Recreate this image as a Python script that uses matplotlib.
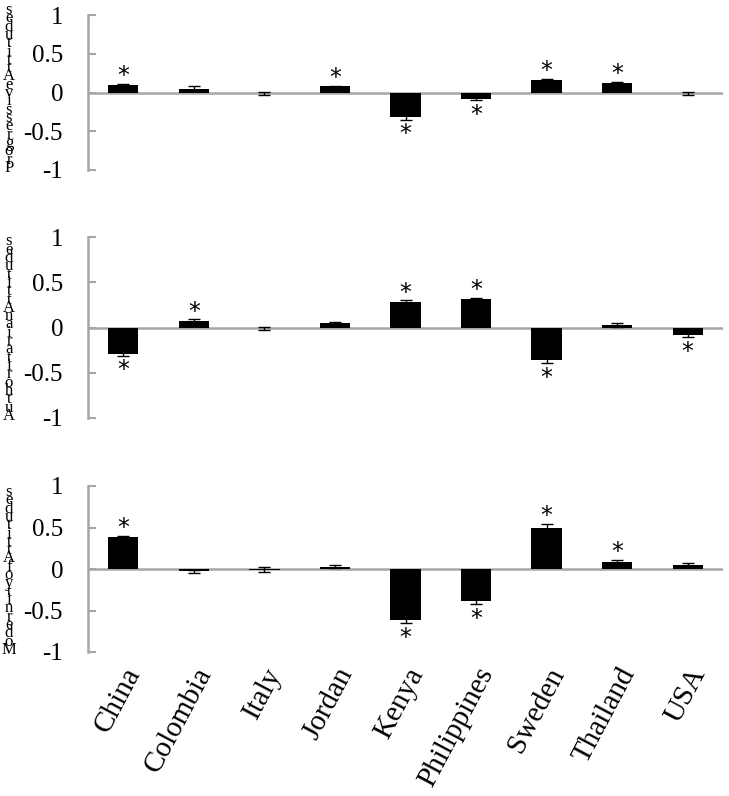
import matplotlib.pyplot as plt
import numpy as np

# countries along the x axis
countries = ['China', 'Colombia', 'Italy', 'Jordan', 'Kenya',
             'Philippines', 'Sweden', 'Thailand', 'USA']

# mean attitude scores per panel
progressive = [0.10, 0.05, -0.01, 0.08, -0.32, -0.08, 0.16, 0.125, -0.01]
progressive_err = [0.01, 0.03, 0.02, 0.01, 0.03, 0.02, 0.01, 0.01, 0.02]
progressive_sig = [True, False, False, True, True, True, True, True, False]

authoritarian = [-0.29, 0.07, -0.01, 0.05, 0.28, 0.31, -0.36, 0.03, -0.08]
authoritarian_err = [0.02, 0.02, 0.02, 0.01, 0.02, 0.02, 0.03, 0.02, 0.03]
authoritarian_sig = [True, True, False, False, True, True, True, False, True]

modernity = [0.38, -0.03, -0.01, 0.03, -0.62, -0.38, 0.50, 0.085, 0.05]
modernity_err = [0.02, 0.02, 0.03, 0.02, 0.03, 0.04, 0.04, 0.02, 0.02]
modernity_sig = [True, False, False, False, True, True, True, True, False]

labels = ['Progressive Attitudes', 'Authoritarian Attitudes', 'Modernity of Attitudes']

plt.rcParams['font.family'] = ['Liberation Serif', 'DejaVu Serif']

fig = plt.figure(figsize=(7.29, 7.96), dpi=100)
H = 796.0
W = 729.0
# pixel boxes (top, bottom) of each panel
boxes = [(15, 170), (237, 418), (486, 652)]
panels = [(progressive, progressive_err, progressive_sig),
          (authoritarian, authoritarian_err, authoritarian_sig),
          (modernity, modernity_err, modernity_sig)]

grey = '#a6a6a6'
x = np.arange(len(countries))

for i, ((top, bot), (vals, errs, sig)) in enumerate(zip(boxes, panels)):
    ax = fig.add_axes([88 / W, 1 - bot / H, (723 - 88) / W, (bot - top) / H])
    ax.bar(x, vals, width=0.43, color='black', zorder=2)
    vals = np.array(vals)
    errs = np.array(errs)
    ax.errorbar(x, vals, yerr=errs, fmt='none', ecolor='black',
                elinewidth=1, capsize=4, capthick=1, zorder=3)
    ax.axhline(0, color=grey, lw=1.8, zorder=1)
    for xi, v, e, s in zip(x, vals, errs, sig):
        if not s:
            continue
        if v >= 0:
            ax.annotate('*', (xi, v + e), xytext=(0, -3), textcoords='offset points',
                        ha='center', va='bottom', fontsize=17, family='DejaVu Sans')
        else:
            ax.annotate('*', (xi, v - e), xytext=(0, -2), textcoords='offset points',
                        ha='center', va='top', fontsize=17, family='DejaVu Sans')
    ax.set_xlim(-0.5, len(countries) - 0.5)
    ax.set_ylim(-1, 1)
    ax.set_yticks([-1, -0.5, 0, 0.5, 1])
    ax.set_yticklabels(['-1', '-0.5', '0', '0.5', '1'])
    for sp in ['top', 'right', 'bottom']:
        ax.spines[sp].set_visible(False)
    ax.spines['left'].set_color(grey)
    ax.spines['left'].set_linewidth(1.8)
    ax.tick_params(axis='y', direction='in', length=6, width=1.5, color=grey,
                   labelsize=18, pad=18)
    if i < 2:
        ax.set_xticks([])
    else:
        ax.set_xticks(x)
        ax.set_xticklabels(countries, rotation=62, ha='right',
                           rotation_mode='anchor', fontsize=21)
        ax.tick_params(axis='x', length=0, pad=8)
    # stacked vertical label, letters upright, read bottom to top
    stacked = '\n'.join(reversed(labels[i].replace(' ', '')))
    fig.text(9 / W, 1 - (bot + 6) / H, stacked, ha='center', va='bottom',
             fontsize=12, linespacing=0.36)

fig.savefig('out.png', dpi=100)
